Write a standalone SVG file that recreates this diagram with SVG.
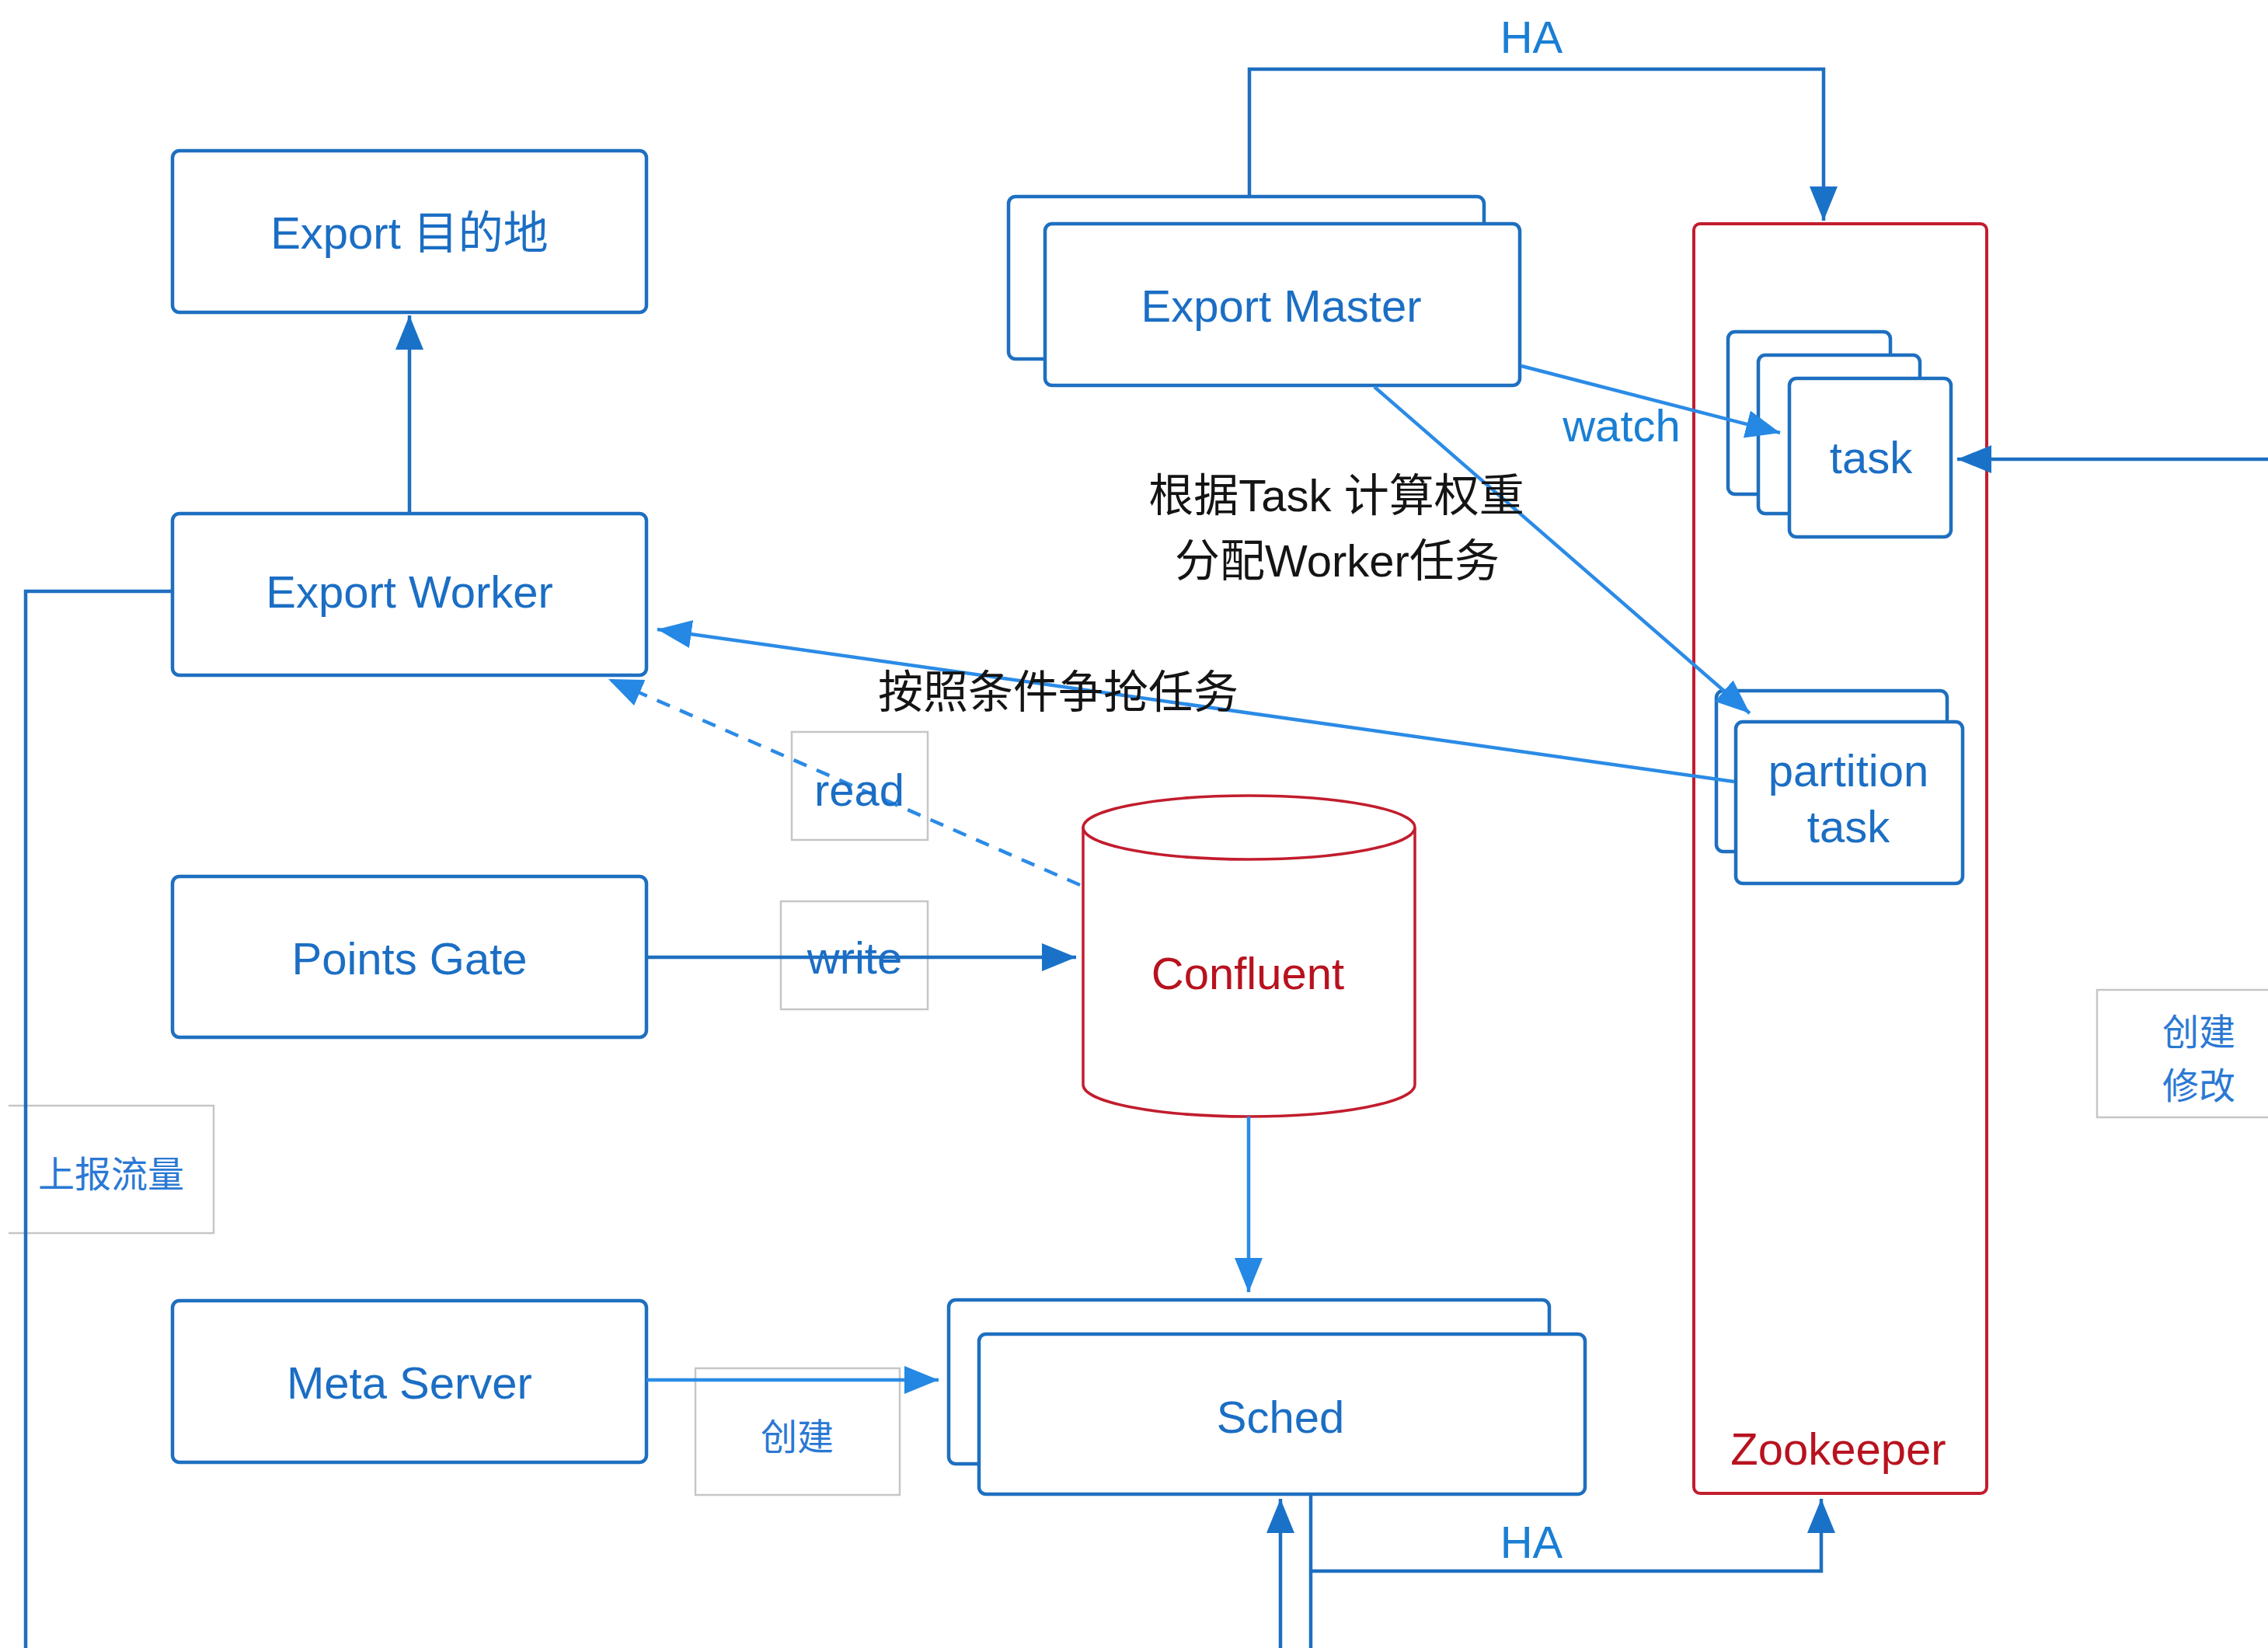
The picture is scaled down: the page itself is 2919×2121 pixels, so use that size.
<svg xmlns="http://www.w3.org/2000/svg" width="2919" height="2121" viewBox="0 0 2919 2121">
<style>
.box{fill:#fff;stroke:#1e6fc0;stroke-width:4.5}
.zk{fill:#fff;stroke:#c21d2e;stroke-width:4}
.cyl{fill:#fff;stroke:#c21d2e;stroke-width:3.5}
.lbl{fill:none;stroke:#c6c6c6;stroke-width:2.5}
.t{font-family:"Liberation Sans","Noto Sans CJK SC",sans-serif;font-size:58px;fill:#1b6ec4;text-anchor:middle}
.tr{fill:#b8121f}
.tc{font-family:"Liberation Sans","Noto Sans CJK SC",sans-serif;font-size:58px;fill:#141414;text-anchor:middle}
.ts{font-family:"Noto Sans CJK SC",sans-serif;font-size:47px;fill:#2a78d4;text-anchor:middle}
.c{fill:none;stroke:#1e6fc0;stroke-width:4.5}
.cl{fill:none;stroke:#2b8be6;stroke-width:4.5}
.dash{stroke-dasharray:18 14}
</style>
<defs>
<marker id="ah" markerUnits="userSpaceOnUse" markerWidth="46" markerHeight="38" refX="44" refY="18" orient="auto">
<path d="M0,0 L44,18 L0,36 z" fill="#1a72c8"/>
</marker>
<marker id="ahl" markerUnits="userSpaceOnUse" markerWidth="46" markerHeight="38" refX="44" refY="18" orient="auto">
<path d="M0,0 L44,18 L0,36 z" fill="#2488e4"/>
</marker>
</defs>
<rect width="2919" height="2121" fill="#fff"/>

<g id="zookeeper">
<rect class="zk" x="2180" y="288" width="377" height="1634" rx="8"/>
<text class="t tr" x="2366" y="1885">Zookeeper</text>
</g>
<g id="export-dest">
<rect class="box" x="222" y="194" width="610" height="208" rx="9"/>
<text class="t" x="527" y="320">Export 目的地</text>
</g>
<g id="export-worker">
<rect class="box" x="222" y="661" width="610" height="208" rx="9"/>
<text class="t" x="527" y="782">Export Worker</text>
</g>
<g id="points-gate">
<rect class="box" x="222" y="1128" width="610" height="207" rx="9"/>
<text class="t" x="527" y="1254">Points Gate</text>
</g>
<g id="meta-server">
<rect class="box" x="222" y="1674" width="610" height="208" rx="9"/>
<text class="t" x="527" y="1800">Meta Server</text>
</g>
<g id="export-master">
<rect class="box" x="1298" y="253" width="612" height="209" rx="9"/>
<rect class="box" x="1345" y="288" width="611" height="208" rx="9"/>
<text class="t" x="1649" y="414">Export Master</text>
</g>
<g id="task">
<rect class="box" x="2224" y="427" width="209" height="209" rx="9"/>
<rect class="box" x="2263" y="457" width="208" height="204" rx="9"/>
<rect class="box" x="2303" y="487" width="208" height="204" rx="9"/>
<text class="t" x="2408" y="609">task</text>
</g>
<g id="partition-task">
<rect class="box" x="2209" y="889" width="297" height="207" rx="9"/>
<rect class="box" x="2234" y="929" width="292" height="208" rx="9"/>
<text class="t" x="2379" y="1012">partition</text>
<text class="t" x="2379" y="1084">task</text>
</g>
<g id="confluent">
<path class="cyl" d="M1394,1065 V1396 A213.5,41 0 0 0 1821,1396 V1065"/>
<ellipse class="cyl" cx="1607.5" cy="1065" rx="213.5" ry="41"/>
<text class="t tr" x="1606" y="1273">Confluent</text>
</g>
<g id="sched">
<rect class="box" x="1221" y="1673" width="773" height="211" rx="9"/>
<rect class="box" x="1260" y="1717" width="780" height="206" rx="9"/>
<text class="t" x="1648" y="1844">Sched</text>
</g>

<g id="label-boxes">
<rect class="lbl" x="1019" y="942" width="175" height="139"/>
<rect class="lbl" x="1005" y="1160" width="189" height="139"/>
<rect class="lbl" x="895" y="1761" width="263" height="163"/>
<path class="lbl" d="M11,1423 H275 V1587 H11"/>
<path class="lbl" d="M2920,1274 H2699 V1438 H2920"/>
</g>

<g id="connectors">
<path class="c" d="M527,661 V406" marker-end="url(#ah)"/>
<path class="c" d="M222,761 H33 V2121"/>
<path class="c" d="M832,1232 H1385" marker-end="url(#ah)"/>
<path class="cl" d="M832,1776 H1208" marker-end="url(#ahl)"/>
<path class="cl" d="M1607,1437 V1663" marker-end="url(#ahl)"/>
<path class="cl dash" d="M1390,1139 L783,874" marker-end="url(#ahl)"/>
<path class="cl" d="M2232,1006 L846,810" marker-end="url(#ahl)"/>
<path class="cl" d="M1958,471 L2291,557" marker-end="url(#ahl)"/>
<path class="cl" d="M1769,498 L2252,918" marker-end="url(#ahl)"/>
<path class="c" d="M1608,253 V89 H2347 V284" marker-end="url(#ah)"/>
<path class="c" d="M2919,591 H2519" marker-end="url(#ah)"/>
<path class="c" d="M1687,1923 V2121 M1687,2022 H2344 V1929" marker-end="url(#ah)"/>
<path class="c" d="M1648,2121 V1929" marker-end="url(#ah)"/>
</g>

<g id="connector-labels">
<text class="t" x="1971" y="68" style="fill:#1a7fd4">HA</text>
<text class="t" x="1971" y="2005" style="fill:#1a7fd4">HA</text>
<text class="t" x="2087" y="568" style="fill:#1a7fd4">watch</text>
<text class="tc" x="1720" y="658">根据Task 计算权重</text>
<text class="tc" x="1721" y="742">分配Worker任务</text>
<text class="tc" x="1362" y="911">按照条件争抢任务</text>
<text class="t" x="1106" y="1037">read</text>
<text class="t" x="1100" y="1253">write</text>
<text class="ts" x="1026" y="1866">创建</text>
<text class="ts" x="143" y="1528">上报流量</text>
<text class="ts" x="2830" y="1345">创建</text>
<text class="ts" x="2830" y="1414">修改</text>
</g>
</svg>
